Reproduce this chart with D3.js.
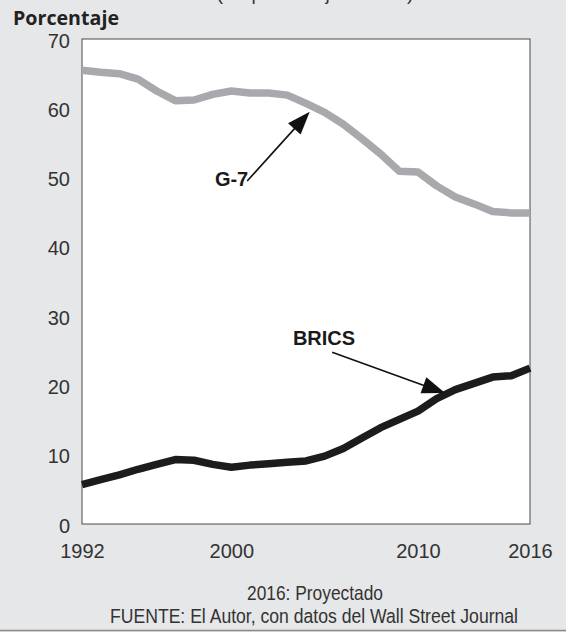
<!DOCTYPE html>
<html>
<head>
<meta charset="utf-8">
<script src="https://cdn.jsdelivr.net/npm/d3@7"></script>
<style>
  html, body { margin: 0; padding: 0; background: #e6e7e8; }
  svg { display: block; }
</style>
</head>
<body>
<script>
// ---- Data ----
const years = [1992,1993,1994,1995,1996,1997,1998,1999,2000,2001,2002,2003,2004,
               2005,2006,2007,2008,2009,2010,2011,2012,2013,2014,2015,2016];
const g7Values = [65.5,65.2,65.0,64.2,62.5,61.1,61.2,62.0,62.5,62.2,62.2,61.9,60.7,
                  59.4,57.7,55.6,53.4,50.9,50.8,48.8,47.2,46.2,45.1,44.9,44.9];
const bricsValues = [5.7,6.4,7.1,7.9,8.6,9.3,9.2,8.6,8.2,8.5,8.7,8.9,9.1,
                     9.8,10.9,12.4,13.9,15.1,16.3,18.1,19.4,20.3,21.2,21.4,22.5];
const yTicks = [0,10,20,30,40,50,60,70];
const xTicks = [1992,2000,2010,2016];
const seriesNames = ["G-7","BRICS"];
const yTitle = "Porcentaje";
const chartTitle = "(En porcentaje del PIB)";
const footNotes = ["2016: Proyectado","FUENTE: El Autor, con datos del Wall Street Journal"];

// annotation anchors in data units: label position, arrow start, arrow tip
const g7Note    = { text: seriesNames[0], lx: 1999.12, ly: 48.8, fx: 2000.85, fy: 49.5, tx: 2004.2, ty: 59.5 };
const bricsNote = { text: seriesNames[1], lx: 2003.3, ly: 25.8, fx: 2005.4, fy: 24.8, tx: 2011.45, ty: 18.9 };

// ---- Layout ----
const W = 566, H = 632;
const plot = { left: 82, right: 530, top: 39, bottom: 524 };
const FONT = "'Liberation Sans', Arial, Helvetica, sans-serif";

const svg = d3.select("body").append("svg")
  .attr("width", W).attr("height", H);

svg.append("rect").attr("width", W).attr("height", H).attr("fill", "#e6e7e8");

const x = d3.scaleLinear().domain([1992, 2016]).range([plot.left, plot.right]);
const y = d3.scaleLinear().domain([0, 70]).range([plot.bottom, plot.top]);

// plot area
svg.append("rect")
  .attr("x", plot.left).attr("y", plot.top)
  .attr("width", plot.right - plot.left).attr("height", plot.bottom - plot.top)
  .attr("fill", "#ffffff").attr("stroke", "#4a4a4a").attr("stroke-width", 1);

// truncated title at the very top (cut off in the reference as well)
svg.append("text")
  .attr("x", 315).attr("y", 0)
  .attr("text-anchor", "middle")
  .attr("font-family", FONT).attr("font-size", 19)
  .attr("fill", "#333")
  .text(chartTitle);

// y title
svg.append("text")
  .attr("x", 13).attr("y", 25)
  .attr("font-family", "'Open Sans', 'Noto Sans', sans-serif")
  .attr("font-weight", "bold").attr("font-size", 20)
  .attr("textLength", 106).attr("lengthAdjust", "spacingAndGlyphs")
  .attr("fill", "#222")
  .text(yTitle);

// axes
const yAxis = d3.axisLeft(y).tickValues(yTicks).tickSize(0).tickPadding(12);
const gy = svg.append("g").attr("transform", `translate(${plot.left},0)`).call(yAxis);
gy.select(".domain").remove();
gy.selectAll("text").attr("font-family", FONT).attr("font-size", 20).attr("fill", "#333")
  .attr("dy", "0.4em");

const xAxis = d3.axisBottom(x).tickValues(xTicks).tickFormat(d3.format("d")).tickSize(0).tickPadding(20);
const gx = svg.append("g").attr("transform", `translate(0,${plot.bottom})`).call(xAxis);
gx.select(".domain").remove();
gx.selectAll("text").attr("font-family", FONT).attr("font-size", 20).attr("fill", "#333");

// lines
const line = d3.line().x((d, i) => x(years[i])).y(d => y(d));
svg.append("path").datum(g7Values)
  .attr("d", line).attr("fill", "none")
  .attr("stroke", "#a8a9ac").attr("stroke-width", 7.5).attr("stroke-linejoin", "round");
svg.append("path").datum(bricsValues)
  .attr("d", line).attr("fill", "none")
  .attr("stroke", "#1c1c1c").attr("stroke-width", 7.5).attr("stroke-linejoin", "round");

// annotations
function annotate(n) {
  const x0 = x(n.fx), y0 = y(n.fy), x1 = x(n.tx), y1 = y(n.ty);
  const dx = x1 - x0, dy = y1 - y0, len = Math.hypot(dx, dy);
  const ux = dx / len, uy = dy / len;
  const headL = 23, headW = 8.5;
  const bx = x1 - ux * headL, by = y1 - uy * headL;
  svg.append("line")
    .attr("x1", x0).attr("y1", y0).attr("x2", bx + ux * 2).attr("y2", by + uy * 2)
    .attr("stroke", "#111").attr("stroke-width", 1.6);
  svg.append("path")
    .attr("d", `M${x1},${y1}L${bx - uy * headW},${by + ux * headW}L${bx + uy * headW},${by - ux * headW}Z`)
    .attr("fill", "#111");
  svg.append("text")
    .attr("x", x(n.lx)).attr("y", y(n.ly))
    .attr("font-family", FONT).attr("font-weight", "bold").attr("font-size", 20)
    .attr("fill", "#1a1a1a")
    .text(n.text);
}
annotate(g7Note);
annotate(bricsNote);

// footnotes (condensed to match the narrow face of the reference)
const footFont = "'Liberation Sans', Arial, sans-serif";
svg.append("text").attr("x", 315).attr("y", 600).attr("text-anchor", "middle")
  .attr("font-family", footFont).attr("font-size", 21).attr("fill", "#333")
  .attr("textLength", 136).attr("lengthAdjust", "spacingAndGlyphs")
  .text(footNotes[0]);
svg.append("text").attr("x", 314).attr("y", 622.5).attr("text-anchor", "middle")
  .attr("font-family", footFont).attr("font-size", 20.5).attr("fill", "#333")
  .attr("textLength", 408).attr("lengthAdjust", "spacingAndGlyphs")
  .text(footNotes[1]);

// bottom rule
svg.append("line").attr("x1", 0).attr("x2", W).attr("y1", 630.5).attr("y2", 630.5)
  .attr("stroke", "#8a8a8a").attr("stroke-width", 1.5);
</script>
</body>
</html>
